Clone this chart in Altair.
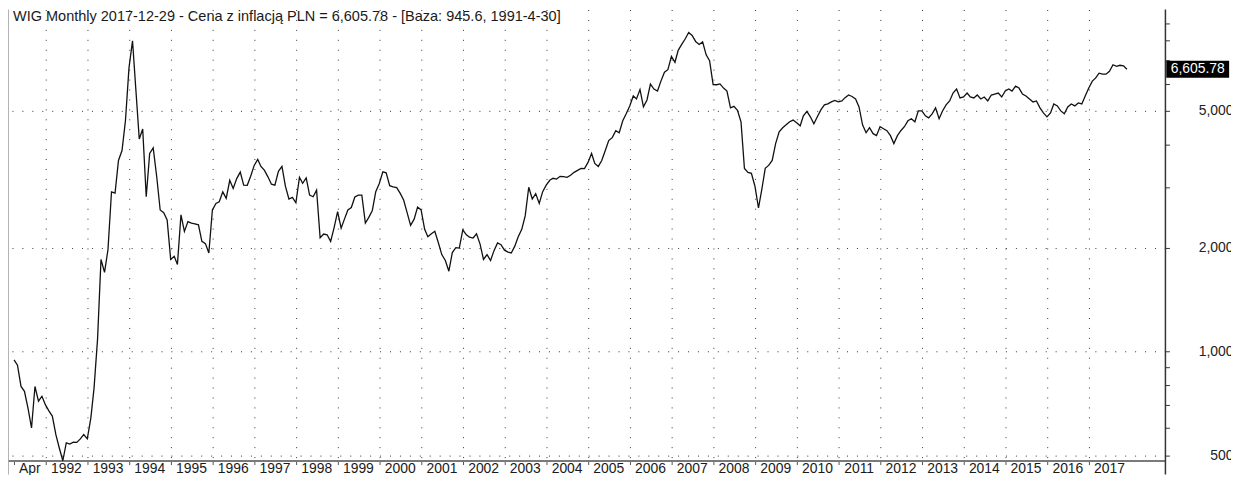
import altair as alt
import pandas as pd

TITLE = "WIG Monthly 2017-12-29 - Cena z inflacją PLN = 6,605.78 - [Baza: 945.6, 1991-4-30]"
LAST_LABEL = "6,605.78"
FONT = "Liberation Sans"

# Monthly values (real, inflation-adjusted), Apr 1991 .. Dec 2017
v1991 = [945.6, 913, 792, 767, 685, 600, 792, 718, 742]
v1992 = [700, 672, 650, 574, 525, 482, 543, 539, 546, 545, 558, 574]
v1993 = [558, 641, 782, 1089, 1851, 1698, 1977, 2910, 2885, 3589, 3835, 4679]
v1994 = [6663, 7989, 5836, 4145, 4429, 2816, 3760, 3905, 3214, 2578, 2532, 2412]
v1995 = [1851, 1891, 1791, 2494, 2233, 2385, 2360, 2349, 2333, 2089, 2058, 1934]
v1996 = [2578, 2694, 2723, 2910, 2786, 3144, 2976, 3179, 3321, 3042, 3040, 3228]
v1997 = [3472, 3613, 3449, 3359, 3217, 3062, 3042, 3337, 3449, 3021, 2773, 2804]
v1998 = [2705, 3207, 3082, 3192, 2847, 2816, 2943, 2141, 2195, 2184, 2089, 2288]
v1999 = [2549, 2283, 2421, 2578, 2620, 2810, 2847, 2845, 2360, 2453, 2569, 2914]
v2000 = [3076, 3326, 3304, 3032, 3008, 2992, 2885, 2754, 2527, 2326, 2424, 2629]
v2001 = [2578, 2265, 2156, 2199, 2236, 2071, 1913, 1839, 1712, 1938, 2004, 1998]
v2002 = [2258, 2184, 2149, 2137, 2199, 2051, 1851, 1913, 1839, 1964, 2067, 2044]
v2003 = [1970, 1944, 1934, 2024, 2156, 2265, 2477, 3000, 2773, 2875, 2694, 2914]
v2004 = [3042, 3144, 3186, 3170, 3228, 3220, 3207, 3250, 3315, 3359, 3404, 3400]
v2005 = [3542, 3760, 3518, 3449, 3589, 3835, 4098, 4181, 4379, 4321, 4679, 4902]
v2006 = [5169, 5523, 5414, 5766, 5135, 5378, 5980, 5785, 5709, 6100, 6475, 6583]
v2007 = [7201, 6919, 7493, 7796, 8085, 8441, 8274, 7953, 7796, 7927, 7273, 6990]
v2008 = [5960, 5955, 5988, 5824, 5709, 5101, 5152, 5017, 4648, 3404, 3315, 3293]
v2009 = [3021, 2612, 2943, 3404, 3472, 3589, 4017, 4350, 4467, 4556, 4648, 4701]
v2010 = [4617, 4526, 4837, 4983, 4805, 4587, 4805, 5033, 5203, 5238, 5308, 5361]
v2011 = [5308, 5343, 5462, 5559, 5505, 5414, 5135, 4556, 4321, 4467, 4293, 4236]
v2012 = [4497, 4438, 4379, 4236, 4017, 4236, 4379, 4497, 4679, 4742, 4648, 5000]
v2013 = [5000, 4837, 4773, 4902, 5101, 4742, 4995, 5203, 5343, 5634, 5785, 5450]
v2014 = [5486, 5634, 5486, 5450, 5559, 5414, 5486, 5343, 5559, 5596, 5634, 5486]
v2015 = [5709, 5785, 5709, 5901, 5824, 5596, 5523, 5414, 5308, 5343, 5101, 4934]
v2016 = [4805, 4934, 5238, 5169, 5000, 4902, 5135, 5238, 5169, 5273, 5238, 5523]
v2017 = [5824, 6100, 6223, 6432, 6390, 6390, 6518, 6805, 6738, 6782, 6760, 6605.78]

YEARS = list(range(1992, 2018))
X_LABELS = ["Apr"] + [str(y) for y in YEARS]
Y_TICKS = [500, 600, 700, 800, 900, 1000, 2000, 3000, 4000, 5000, 6000, 7000, 8000, 9000]
Y_MAJOR = [500, 1000, 2000, 5000]

W, H = 1165, 454


def ms(s):
    return int(pd.Timestamp(s).value // 10**6)


values = (v1991 + v1992 + v1993 + v1994 + v1995 + v1996 + v1997 + v1998 + v1999
          + v2000 + v2001 + v2002 + v2003 + v2004 + v2005 + v2006 + v2007 + v2008
          + v2009 + v2010 + v2011 + v2012 + v2013 + v2014 + v2015 + v2016 + v2017)
dates = pd.date_range("1991-04-01", periods=len(values), freq="MS")
df = pd.DataFrame({"t": [int(d.value // 10**6) for d in dates], "v": values})

tick_ms = [ms("1991-04-01")] + [ms(f"{y}-01-01") for y in YEARS]
label_ms = [ms("1991-08-16")] + [ms(f"{y}-07-02") for y in YEARS]
lbl_df = pd.DataFrame({"t": label_ms, "label": X_LABELS})
last_df = pd.DataFrame({"v": [values[-1]], "lab": [LAST_LABEL]})
title_df = pd.DataFrame({"s": [TITLE]})
one = pd.DataFrame({"a": [0]})

xscale = alt.Scale(domain=[ms("1991-02-07"), ms("2018-11-03")], nice=False)
yscale = alt.Scale(type="log", domain=[482.6, 9846], nice=False)

xaxis = alt.Axis(values=tick_ms, labels=False, title=None, tickSize=4, tickColor="#555",
                 domainColor="#7a7a7a", domainWidth=2, grid=True, gridColor="#333",
                 gridDash=[1, 9], gridWidth=1,
                 gridOpacity={"condition": {"test": "utcmonth(datum.value) == 3", "value": 0}, "value": 1})
yaxis = alt.Axis(orient="right", values=Y_TICKS, title=None, tickSize=4, tickColor="#333",
                 domain=False, labelAlign="right", labelPadding=64, labelFont=FONT,
                 labelFontSize=14, labelColor="#222", labelOverlap=False, labelBaseline="middle",
                 labelExpr="indexof([500,1000,2000,5000], datum.value) >= 0 ? format(datum.value, ',') : ''",
                 grid=True, gridColor="#333", gridDash=[1, 9], gridWidth=1,
                 gridOpacity={"condition": {"test": "datum.value == 500 || datum.value == 1000 || datum.value == 2000 || datum.value == 5000", "value": 1}, "value": 0})

X = alt.X("t:T", scale=xscale, axis=xaxis)
Y = alt.Y("v:Q", scale=yscale, axis=yaxis)

line = alt.Chart(df).mark_line(color="#111", strokeWidth=1.3).encode(x=X, y=Y)

xlabels = alt.Chart(lbl_df).mark_text(font=FONT, fontSize=14, color="#1a1a1a",
                                      baseline="alphabetic", align="center").encode(
    x=X, y=alt.value(H + 12.5), text="label:N")

box = alt.Chart(last_df).mark_point(shape="M-1,-0.27L1,-0.27L1,0.27L-1,0.27Z", size=4000,
                                    filled=True, color="black", opacity=1, strokeWidth=0).encode(
    x=alt.value(1197.5), y=Y)
boxtext = alt.Chart(last_df).mark_text(font=FONT, fontSize=14, color="white",
                                       align="center", baseline="middle").encode(
    x=alt.value(1197.5), y=Y, text="lab:N")

title = alt.Chart(title_df).mark_text(font=FONT, fontSize=14.6, color="#1a1a1a",
                                      align="left", baseline="middle").encode(
    x=alt.value(5), y=alt.value(8), text="s:N")

left_border = alt.Chart(one).mark_rule(color="#999", strokeWidth=1.5).encode(
    x=alt.value(0), y=alt.value(0), y2=alt.value(H + 14))
right_border = alt.Chart(one).mark_rule(color="#333", strokeWidth=1.5).encode(
    x=alt.value(W), y=alt.value(0), y2=alt.value(H + 14))

chart = alt.layer(left_border, right_border, line, xlabels, box, boxtext, title).properties(
    width=W, height=H,
    autosize=alt.AutoSizeParams(type="none"),
    padding={"left": 0, "top": 0, "right": 66, "bottom": 13},
    background="white",
).configure_view(stroke=None)

chart.save("out.html", embed_options={"renderer": "svg", "actions": False})
